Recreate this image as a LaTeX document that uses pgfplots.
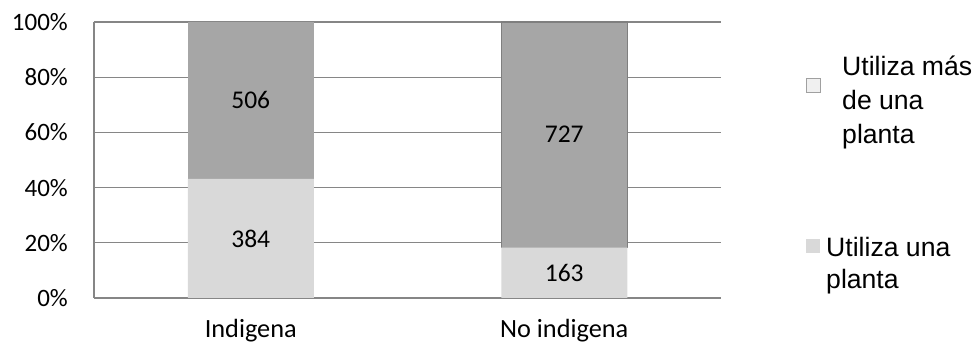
\documentclass[border=0pt]{standalone}
\usepackage{pgfplots}
\pgfplotsset{compat=1.18}
\usepackage{pgfplotstable}
\usepackage{fontspec}
\setmainfont{Carlito}
\newfontfamily\arialfont{Liberation Sans}

\definecolor{barclaro}{HTML}{D9D9D9}
\definecolor{baroscuro}{HTML}{A6A6A6}
\definecolor{rejilla}{HTML}{868686}
\definecolor{bordebar}{HTML}{7F7F7F}
\definecolor{leyendaborde}{HTML}{A0A0A0}
\definecolor{leyendafondo}{HTML}{F0F0F0}

% Counts per group; bar heights are shares of the group total
\pgfplotstableread{
x n   tot
0 384 890
1 163 890
}\unaplanta
% "more than one plant": the bordered segment is kept in its own series
\pgfplotstableread{
x n   tot
0 506 890
1 0   890
}\masplantasA
\pgfplotstableread{
x n   tot
0 0   890
1 727 890
}\masplantasB

% Count labels, centred in each stacked segment
\pgfplotsset{
  segmento/.style={
    point meta=\thisrow{n},
    nodes near coords={\pgfmathfloatifflags{\pgfplotspointmeta}{0}{}{\pgfmathprintnumber[assume math mode=true]{\pgfplotspointmeta}}},
    every node near coord/.style={anchor=center, inner sep=0pt,
      text=black, font=\fontsize{25.5}{30}\selectfont},
  },
}

\begin{document}
\begin{tikzpicture}
\useasboundingbox (-94pt,-46pt) rectangle (880pt,298pt);
\begin{axis}[
  at={(0pt,0pt)}, anchor=south west,
  scale only axis, width=627pt, height=276pt,
  ybar stacked, bar width=126pt,
  xmin=-0.5, xmax=1.5, ymin=0, ymax=100,
  xtick={0,1}, xticklabels={Indigena, No indigena},
  ytick={0,20,40,60,80,100},
  yticklabels={0\%,20\%,40\%,60\%,80\%,100\%},
  ymajorgrids, grid style={rejilla, line width=1.1pt},
  axis lines*=left, axis line style={rejilla, line width=1.1pt, -},
  major tick length=0pt,
  tick label style={font=\fontsize{25}{30}\selectfont, text=black},
  yticklabel style={inner sep=0pt, xshift=-26pt},
  xticklabel style={inner sep=0pt, anchor=north, yshift=-21.5pt,
    font=\fontsize{26.3}{30}\selectfont},
  clip=false,
]
\addplot[fill=barclaro, draw=none, segmento]
  table[x=x, y expr=\thisrow{n}*100/\thisrow{tot}] {\unaplanta};
\addplot[fill=baroscuro, draw=none, segmento]
  table[x=x, y expr=\thisrow{n}*100/\thisrow{tot}] {\masplantasA};
\addplot[fill=baroscuro, draw=bordebar, line width=1.1pt, segmento]
  table[x=x, y expr=\thisrow{n}*100/\thisrow{tot}] {\masplantasB};
\end{axis}

% Legend
\filldraw[fill=leyendafondo, draw=leyendaborde, line width=0.9pt]
  (712pt,206pt) rectangle (726pt,220pt);
\fill[barclaro] (712pt,45pt) rectangle (726pt,59pt);
\begin{scope}[every node/.style={anchor=base west, inner sep=0pt,
    font=\arialfont\fontsize{26.6}{30}\selectfont}]
  \node at (748pt,222pt) {Utiliza más};
  \node at (748pt,188pt) {de una};
  \node at (748pt,154pt) {planta};
  \node at (732pt,41pt) {Utiliza una};
  \node at (732pt,9pt) {planta};
\end{scope}
\end{tikzpicture}
\end{document}
